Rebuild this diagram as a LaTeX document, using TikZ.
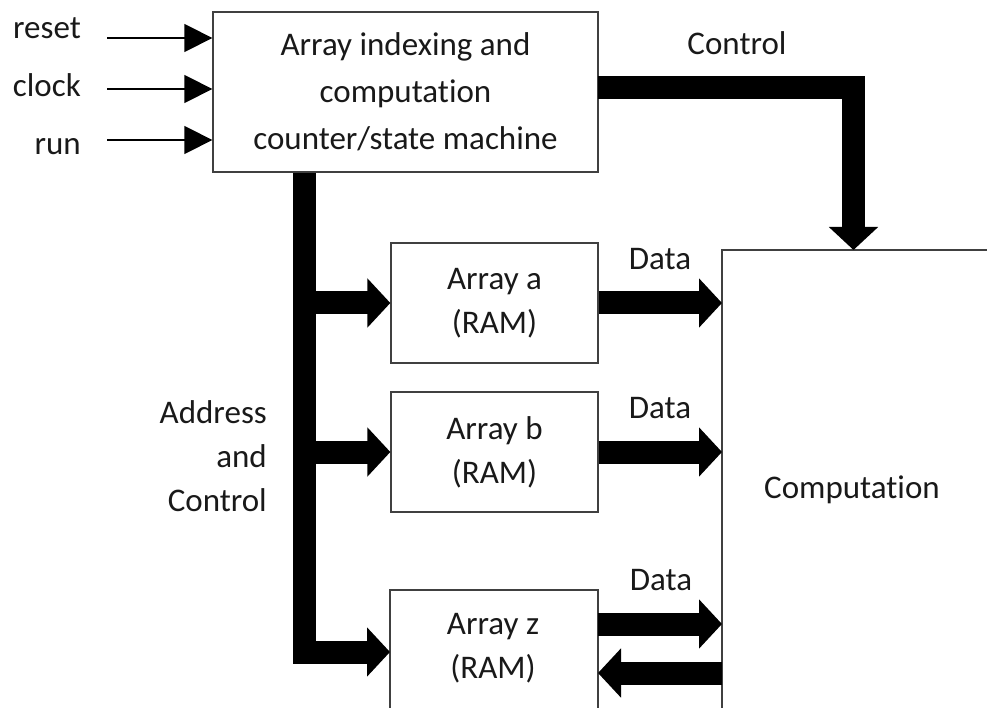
\documentclass[tikz,border=0pt]{standalone}
\usepackage{fontspec}
\setmainfont{Carlito}[Ligatures=NoCommon]
\usetikzlibrary{arrows.meta}
\begin{document}
\begin{tikzpicture}[x=1pt,y=-1pt,
  lbl/.style={font=\fontsize{33}{44}\selectfont, inner sep=0pt, text=black!90},
  blk/.style={draw=black!75, line width=1.3pt, fill=white, inner sep=0pt, align=center, font=\fontsize{33}{44}\selectfont, text=black!90},
  edge/.style={draw=black!75, line width=1.3pt},
  thinarr/.style={line width=1.4pt, -{Triangle[width=28pt,length=28pt]}},
  fat/.style={line width=23pt, line join=miter, -{Triangle[width=48pt,length=23pt]}}
]
\useasboundingbox (0,0) rectangle (987,708);

% main control block
\node[blk, minimum width=385pt, minimum height=160pt, font=\fontsize{33}{47}\selectfont] (ctl) at (405.5,92) {Array indexing and\\computation\\counter/state machine};

% RAM blocks
\node[blk, minimum width=207pt, minimum height=120pt] (ra) at (494.5,303) {Array a\\(RAM)};
\node[blk, minimum width=207pt, minimum height=120pt] (rb) at (494.5,452) {Array b\\(RAM)};

% Array z (open at the bottom)
\coordinate (zBL) at (390,708);
\coordinate (zTL) at (390,590);
\coordinate (zTR) at (598,590);
\coordinate (zBR) at (598,708);
\draw[edge] (zBL) -- (zTL) -- (zTR) -- (zBR);
\node[lbl, align=center] (rz) at (493,648) {Array z\\(RAM)};

% Computation (open right and bottom)
\coordinate (cBL) at (722,708);
\coordinate (cTL) at (722,250);
\coordinate (cTR) at (987,250);
\draw[edge] (cBL) -- (cTL) -- (cTR);
\node[lbl] (comp) at (852,490) {Computation};

% inputs
\coordinate (rs) at (107,38);
\coordinate (ck) at (107,89);
\coordinate (rn) at (107,140);
\draw[thinarr] (rs) -- (rs -| ctl.west);
\draw[thinarr] (ck) -- (ck -| ctl.west);
\draw[thinarr] (rn) -- (rn -| ctl.west);
\node[lbl, anchor=base east] (lrs) at (81,39) {reset};
\node[lbl, anchor=base east] (lck) at (81,97) {clock};
\node[lbl, anchor=base east] (lrn) at (81,155) {run};

% address and control bus
\coordinate (bx) at (304,0);
\coordinate (zin) at (390,652);
\draw[fat] (ctl.south -| bx) -- (bx |- zin) -- (zin);
\draw[fat] (bx |- ra.west) -- (ra.west);
\draw[fat] (bx |- rb.west) -- (rb.west);
\node[lbl, align=right, anchor=east] (ladr) at (267,456) {Address\\and\\Control};

% data paths
\draw[fat] (ra.east) -- (ra.east -| cTL);
\draw[fat] (rb.east) -- (rb.east -| cTL);
\coordinate (zo) at (598,624);
\coordinate (zi) at (598,673);
\draw[fat] (zo) -- (zo -| cTL);
\draw[fat] (zi -| cTL) -- (zi);
\node[lbl] (lda) at (660,259) {Data};
\node[lbl] (ldb) at (660,408) {Data};
\node[lbl] (ldz) at (661,580) {Data};

% control to computation
\coordinate (cout) at (598,88);
\coordinate (cin) at (853.5,250);
\draw[fat] (cout) -- (cout -| cin) -- (cin);
\node[lbl] (lctl) at (737,43) {Control};
\end{tikzpicture}
\end{document}
